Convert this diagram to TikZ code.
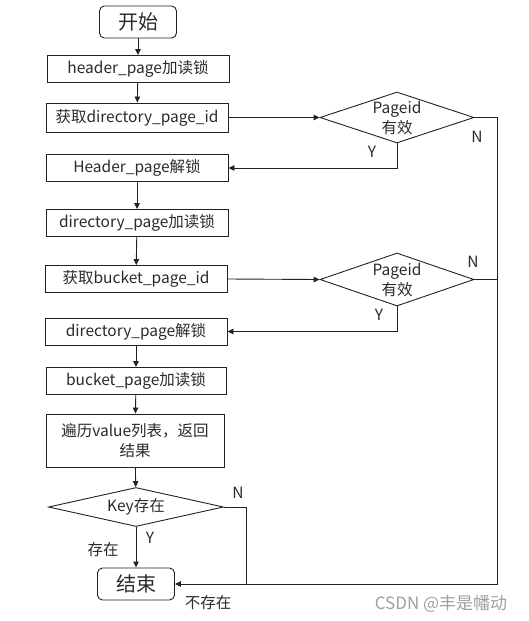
\documentclass[tikz,border=0pt]{standalone}
\usepackage{fontspec}
\setmainfont{Noto Sans CJK SC}
\usetikzlibrary{arrows.meta,shapes.geometric}
\definecolor{ink}{HTML}{222222}
\definecolor{txt}{HTML}{2A2A2A}
\definecolor{wm}{HTML}{A0A0A0}
\begin{document}
\begin{tikzpicture}[x=1pt,y=-1pt,
  every node/.style={text=txt,font=\fontsize{15.5}{20}\selectfont},
  proc/.style={draw=ink,line width=0.9pt,rectangle,minimum width=182pt,minimum height=27pt,inner sep=0pt,align=center},
  term/.style={draw=ink,line width=0.9pt,rectangle,rounded corners=5pt,minimum width=77pt,minimum height=32pt,inner sep=0pt,font=\fontsize{20}{24}\selectfont},
  dec/.style={draw=ink,line width=0.9pt,diamond,shape aspect=3,inner sep=0pt},
  lbl/.style={inner sep=0pt},
  arr/.style={draw=ink,line width=0.9pt,-{Triangle[length=6pt,width=5.5pt]}},
  ln/.style={draw=ink,line width=0.9pt}]
\useasboundingbox (0,0) rectangle (529,621);

\node[term] (start) at (138,22) {开始};
\node[proc] (b1) at (138,69) {header\_page加读锁};
\node[proc,minimum height=29pt] (b2) at (137,117.5) {获取directory\_page\_id};
\node[proc] (b3) at (137,168) {Header\_page解锁};
\node[proc] (b4) at (137,223) {directory\_page加读锁};
\node[proc] (b5) at (136,279) {获取bucket\_page\_id};
\node[proc] (b6) at (136,331.5) {directory\_page解锁};
\node[proc,minimum width=180pt] (b7) at (136,381) {bucket\_page加读锁};
\node[proc,minimum width=178pt,minimum height=53pt] (b8) at (135,440.5) {遍历value列表，返回\\结果};
\node[dec,minimum width=175pt,minimum height=39pt,label={center:Key存在}] (d3) at (136,507) {};
\node[term] (end) at (136,584) {结束};

\node[dec,minimum width=154pt,minimum height=51pt,label={[align=center]center:Pageid\\有效}] (d1) at (397,117.5) {};
\node[dec,minimum width=154pt,minimum height=53pt,label={[align=center]center:Pageid\\有效}] (d2) at (397,279.5) {};

\coordinate (r1) at (497,117.5);
\coordinate (r2) at (497,279.5);
\coordinate (rb) at (497,584);
\coordinate (k1) at (246,507);
\coordinate (k2) at (246,584);

\draw[arr] (start) -- (b1);
\draw[arr] (b1) -- (b2);
\draw[arr] (b3) -- (b4);
\draw[arr] (b4) -- (b5);
\draw[arr] (b6) -- (b7);
\draw[arr] (b7) -- (b8);
\draw[arr] (b8) -- (d3);
\draw[arr] (d3) -- (end);

\draw[arr] (b2.east) -- (d1.west);
\draw[arr] (d1.south) |- (b3.east);
\draw[arr] (b5.east) -- (d2.west);
\draw[arr] (d2.south) |- (b6.east);

\draw[arr] (d1.east) -- (r1) -- (rb) -- (end.east);
\draw[ln] (d2.east) -- (r2);
\draw[ln] (d3.east) -- (k1) -- (k2);

\node[lbl] (n1) at (477,137) {N};
\node[lbl] (y1) at (372,152) {Y};
\node[lbl] (n2) at (473,262) {N};
\node[lbl] (y2) at (379,315) {Y};
\node[lbl] (n3) at (238,493) {N};
\node[lbl] (y3) at (150,538) {Y};
\node[lbl] (yes) at (103,550) {存在};
\node[lbl] (no) at (208,603) {不存在};
\node[lbl,text=wm,font=\fontsize{17}{20}\selectfont] (wmk) at (441,604) {CSDN @丰是幡动};
\end{tikzpicture}
\end{document}
